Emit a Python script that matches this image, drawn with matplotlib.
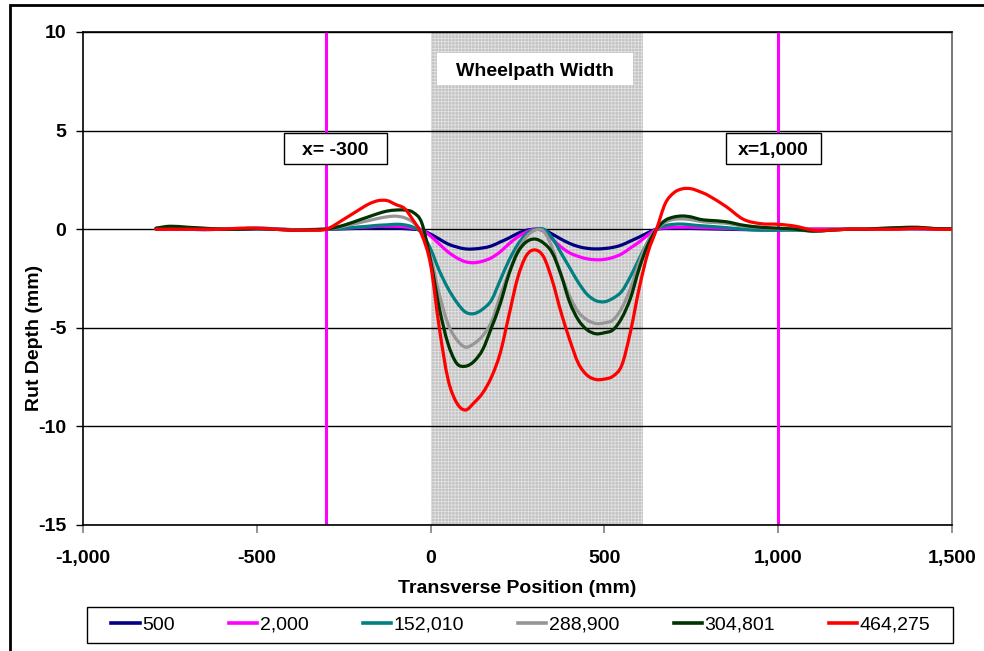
import matplotlib
matplotlib.use("Agg")
import matplotlib.pyplot as plt
import numpy as np
from matplotlib.patches import Rectangle, PathPatch
from matplotlib.path import Path
from matplotlib.lines import Line2D

plt.rcParams['font.family'] = ['Liberation Sans', 'DejaVu Sans']
plt.rcParams['hatch.linewidth'] = 0.6
plt.rcParams['axes.unicode_minus'] = False

x_mm = [-790, -750, -700, -650, -600, -550, -500, -450, -400, -350, -300, -250, -200, -175, -150, -125,
        -100, -75, -50, -25, 0, 25, 50, 75, 100, 125, 150, 175, 200, 225, 250, 275, 300, 325, 350, 375,
        400, 425, 450, 475, 500, 525, 550, 575, 600, 625, 650, 675, 700, 725, 750, 775, 800, 850, 900,
        950, 1000, 1050, 1100, 1150, 1200, 1250, 1300, 1350, 1400, 1450, 1500]

s_500 = [0.0, 0.02, 0.0, -0.02, 0.0, 0.0, 0.02, 0.0, -0.02, -0.02, 0.0, 0.02, 0.05, 0.06, 0.07, 0.06,
         0.05, 0.03, 0.0, -0.05, -0.25, -0.5, -0.75, -0.9, -1.0, -1.0, -0.95, -0.85, -0.65, -0.45, -0.22,
         -0.06, 0.0, -0.03, -0.25, -0.5, -0.72, -0.88, -0.97, -1.0, -0.98, -0.92, -0.8, -0.6, -0.4, -0.18,
         0.0, 0.04, 0.05, 0.05, 0.04, 0.03, 0.02, 0.0, -0.02, -0.03, -0.02, 0.0, 0.0, 0.0, 0.0, 0.0, 0.02,
         0.03, 0.02, 0.02, 0.03]

s_2000 = [0.0, 0.02, 0.0, -0.02, 0.0, 0.02, 0.05, 0.02, -0.02, -0.02, 0.0, 0.05, 0.1, 0.12, 0.15, 0.15,
          0.15, 0.12, 0.05, -0.02, -0.35, -0.75, -1.15, -1.45, -1.65, -1.7, -1.62, -1.45, -1.15, -0.75,
          -0.4, -0.15, 0.0, -0.1, -0.5, -0.9, -1.2, -1.38, -1.5, -1.55, -1.53, -1.43, -1.25, -0.95, -0.65,
          -0.3, 0.0, 0.07, 0.1, 0.1, 0.1, 0.08, 0.07, 0.04, 0.0, -0.02, -0.03, -0.02, 0.0, 0.0, 0.0, 0.0,
          0.02, 0.03, 0.03, 0.02, 0.02]

s_152010 = [0.0, 0.05, 0.03, 0.0, 0.0, 0.02, 0.05, 0.02, -0.03, -0.03, 0.0, 0.05, 0.12, 0.16, 0.2, 0.22,
            0.25, 0.22, 0.1, -0.2, -1.0, -2.1, -3.0, -3.7, -4.2, -4.28, -4.05, -3.6, -2.6, -1.6, -0.8,
            -0.25, -0.02, 0.0, -0.45, -1.2, -1.95, -2.7, -3.3, -3.62, -3.68, -3.5, -3.15, -2.4, -1.5,
            -0.65, 0.0, 0.18, 0.25, 0.26, 0.22, 0.18, 0.15, 0.08, 0.0, -0.05, -0.05, -0.05, -0.08, -0.05,
            0.0, 0.0, 0.02, 0.05, 0.05, 0.03, 0.02]

s_288900 = [0.05, 0.1, 0.08, 0.03, 0.0, 0.02, 0.05, 0.02, -0.03, -0.03, 0.0, 0.15, 0.35, 0.45, 0.55, 0.63,
            0.66, 0.58, 0.35, -0.2, -1.4, -3.3, -4.8, -5.6, -5.98, -5.8, -5.4, -4.7, -3.4, -2.2, -1.1,
            -0.4, -0.05, -0.1, -0.95, -2.3, -3.4, -4.2, -4.6, -4.78, -4.75, -4.6, -4.0, -3.0, -1.7, -0.6,
            0.0, 0.35, 0.5, 0.52, 0.48, 0.4, 0.35, 0.3, 0.15, 0.08, 0.03, 0.0, -0.08, -0.05, 0.0, 0.0,
            0.03, 0.06, 0.08, 0.03, 0.02]

s_304801 = [0.05, 0.15, 0.1, 0.05, 0.0, 0.0, 0.03, 0.0, -0.05, -0.03, 0.0, 0.2, 0.5, 0.65, 0.8, 0.92,
            0.97, 0.97, 0.85, 0.3, -1.6, -4.0, -5.8, -6.8, -6.95, -6.7, -6.1, -5.0, -3.8, -2.3, -1.2,
            -0.65, -0.5, -0.7, -1.2, -2.3, -3.7, -4.6, -5.1, -5.3, -5.25, -5.1, -4.5, -3.5, -2.0, -0.8,
            0.0, 0.45, 0.62, 0.67, 0.62, 0.5, 0.45, 0.38, 0.2, 0.1, 0.05, 0.0, -0.1, -0.05, 0.0, 0.0, 0.05,
            0.08, 0.1, 0.03, 0.02]

s_464275 = [0.0, 0.0, 0.0, 0.0, 0.0, 0.05, 0.05, 0.0, -0.05, -0.05, 0.0, 0.5, 1.05, 1.3, 1.45, 1.45,
            1.25, 1.05, 0.45, -0.3, -1.8, -5.0, -7.6, -8.8, -9.17, -8.8, -8.3, -7.5, -6.3, -4.4, -2.5,
            -1.35, -1.05, -1.4, -2.6, -4.2, -5.6, -6.8, -7.4, -7.62, -7.6, -7.45, -6.9, -5.2, -3.0, -1.2,
            0.0, 1.3, 1.85, 2.05, 2.05, 1.9, 1.7, 1.15, 0.5, 0.28, 0.25, 0.15, -0.05, -0.05, 0.0, 0.0, 0.0,
            0.0, 0.05, 0.0, 0.0]

series_names = ['500', '2,000', '152,010', '288,900', '304,801', '464,275']
series_values = [s_500, s_2000, s_152010, s_288900, s_304801, s_464275]
series_colors = ['#000080', '#ff00ff', '#008080', '#969696', '#003300', '#ff0000']

x_ticks = [-1000, -500, 0, 500, 1000, 1500]
x_tick_labels = ['-1,000', '-500', '0', '500', '1,000', '1,500']
y_ticks = [-15, -10, -5, 0, 5, 10]
ref_lines = [-300, 1000]
ref_labels = ['x= -300', 'x=1,000']
wheelpath = [0, 610]

W, H = 984, 651
AX_L, AX_R, AX_T, AX_B = 83, 952, 32, 525


def smooth_path(xs, ys):
    """Excel-style smoothed line: cubic Bezier segments through every data point."""
    p = np.column_stack([xs, ys]).astype(float)
    n = len(p)
    verts = [p[0]]
    codes = [Path.MOVETO]
    for i in range(n - 1):
        p0 = p[i - 1] if i > 0 else p[i]
        p1 = p[i]
        p2 = p[i + 1]
        p3 = p[i + 2] if i + 2 < n else p[i + 1]
        c1 = p1 + (p2 - p0) / 6.0
        c2 = p2 - (p3 - p1) / 6.0
        verts += [c1, c2, p2]
        codes += [Path.CURVE4] * 3
    return Path(verts, codes)


fig = plt.figure(figsize=(W / 100, H / 100), dpi=100)
ax = fig.add_axes([AX_L / W, 1 - AX_B / H, (AX_R - AX_L) / W, (AX_B - AX_T) / H])

ax.axvspan(wheelpath[0], wheelpath[1], facecolor='#c3c3c3', edgecolor='#e2e2e2',
           hatch='+++++', linewidth=0, zorder=0)

for yv in y_ticks:
    ax.axhline(yv, color='black', lw=1.0, zorder=1)

for xv in ref_lines:
    ax.axvline(xv, color='#ff00ff', lw=2.2, zorder=2)

handles = []
for name, vals, col in zip(series_names, series_values, series_colors):
    ax.add_patch(PathPatch(smooth_path(x_mm, vals), fill=False, edgecolor=col, lw=2.3,
                           zorder=3, joinstyle='round', capstyle='round'))
    handles.append(Line2D([], [], color=col, lw=2.6, label=name))

ax.set_xlim(-1000, 1500)
ax.set_ylim(-15, 10)
ax.set_xticks(x_ticks)
ax.set_xticklabels(x_tick_labels)
ax.set_yticks(y_ticks)
for lab in ax.get_xticklabels() + ax.get_yticklabels():
    lab.set_fontweight('bold')
    lab.set_fontsize(14)
ax.tick_params(axis='x', direction='out', length=6, color='#808080', width=1.2, pad=12)
ax.tick_params(axis='y', direction='out', length=5, color='black', width=1.0, pad=7)

for side in ['left', 'bottom', 'top']:
    ax.spines[side].set_color('black')
    ax.spines[side].set_linewidth(1.2)
ax.spines['right'].set_color('#606060')
ax.spines['right'].set_linewidth(1.2)

aw, ah = AX_R - AX_L, AX_B - AX_T
ax.set_xlabel('Transverse Position (mm)', fontsize=14, fontweight='bold')
ax.xaxis.set_label_coords((517 - AX_L) / aw, -(580 - AX_B) / ah)
ax.set_ylabel('Rut Depth (mm)', fontsize=14, fontweight='bold')
ax.yaxis.set_label_coords(-(AX_L - 43) / aw, (AX_B - 338) / ah)


def px2x(px):
    return -1000 + (px - AX_L) * 2500 / aw


def px2y(py):
    return 10 - (py - AX_T) * 25 / ah


boxes = [('Wheelpath Width', 437, 633, 53, 85, 'none'),
         (ref_labels[0], 284, 387, 133, 164, 'black'),
         (ref_labels[1], 726, 821, 133, 164, 'black')]
for txt, x0, x1, y0, y1, ec in boxes:
    ax.add_patch(Rectangle((px2x(x0), px2y(y1)), px2x(x1) - px2x(x0), px2y(y0) - px2y(y1),
                           facecolor='white', edgecolor=ec, lw=1.0, zorder=5))
    ax.text(px2x((x0 + x1) / 2), px2y((y0 + y1) / 2), txt, ha='center', va='center_baseline',
            fontsize=14, fontweight='bold', zorder=6)

leg = fig.legend(handles=handles, loc='center', bbox_to_anchor=(521 / W, 1 - 625 / H), ncol=6,
                 frameon=False, fontsize=14, handlelength=1.45, handletextpad=0.12,
                 columnspacing=2.8, borderaxespad=0)

fig.add_artist(Rectangle((87 / W, 1 - 643 / H), (953 - 87) / W, 36 / H, transform=fig.transFigure,
                         fill=False, edgecolor='black', lw=1.0))
fig.add_artist(Rectangle((10 / W, -0.05), 1.0, 1 - 5 / H + 0.05, transform=fig.transFigure,
                         fill=False, edgecolor='black', lw=2.0))

fig.savefig('out.png', dpi=100)
